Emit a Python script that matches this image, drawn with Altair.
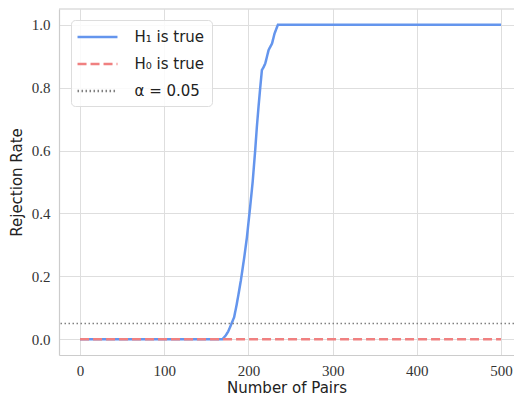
import altair as alt
import pandas as pd

# H1 rejection rate curve
h1_n = [0, 50, 100, 150, 169, 173, 176, 179, 183, 186, 188, 191, 195, 198, 200, 202,
        205, 208, 210, 212, 214, 216, 218, 220, 224, 228, 231, 235, 300, 400, 500]
h1_r = [0.0, 0.0, 0.0, 0.0, 0.0, 0.012, 0.025, 0.044, 0.07, 0.11, 0.14, 0.187, 0.26,
        0.32, 0.37, 0.42, 0.50, 0.60, 0.675, 0.74, 0.80, 0.856, 0.865, 0.877, 0.92,
        0.94, 0.972, 1.0, 1.0, 1.0, 1.0]
# H0 rejection rate (flat at zero)
h0_n = [0, 100, 200, 300, 400, 500]
h0_r = [0.0, 0.0, 0.0, 0.0, 0.0, 0.0]
alpha_level = [0.05]

series = ["H\u2081 is true", "H\u2080 is true", "\u03b1 = 0.05"]
colors = ["#6495ED", "#F08080", "#808080"]
dashes = [[1, 0], [9, 4], [1.5, 2.5]]

df_lines = pd.concat([
    pd.DataFrame({"n": h1_n, "r": h1_r, "series": series[0], "order": 0}),
    pd.DataFrame({"n": h0_n, "r": h0_r, "series": series[1], "order": 1}),
])
df_alpha = pd.DataFrame({"r": alpha_level, "series": series[2]})

xscale = alt.Scale(domain=[-25, 515.4], nice=False, zero=False)
yscale = alt.Scale(domain=[-0.05, 1.05], nice=False, zero=False)
leg = alt.Legend(title=None, orient="none", legendX=12, legendY=11)
color = alt.Color("series:N", scale=alt.Scale(domain=series, range=colors), legend=leg)
dash = alt.StrokeDash("series:N", scale=alt.Scale(domain=series, range=dashes), legend=leg)

lines = alt.Chart(df_lines).mark_line(strokeWidth=2.5, clip=True).encode(
    x=alt.X("n:Q", scale=xscale, title="Number of Pairs",
            axis=alt.Axis(values=[0, 100, 200, 300, 400, 500], format="d")),
    y=alt.Y("r:Q", scale=yscale, title="Rejection Rate",
            axis=alt.Axis(values=[0, 0.2, 0.4, 0.6, 0.8, 1.0], format=".1f")),
    color=color,
    strokeDash=dash,
    detail="series:N",
    order="order:Q",
)

alpha_rule = alt.Chart(df_alpha).mark_rule(strokeWidth=1.5).encode(
    y=alt.Y("r:Q", scale=yscale),
    color=color,
    strokeDash=dash,
)

# top frame line of the plot area
top_frame = alt.Chart(df_alpha).mark_rule(color="#cccccc", strokeWidth=1.2).encode(
    y=alt.value(0)
)

chart = alt.layer(lines, alpha_rule, top_frame).properties(
    width=455, height=346,
    autosize=alt.AutoSizeParams(type="none"),
    padding={"left": 51, "top": 1, "right": 0, "bottom": 41},
    background="white",
).configure_view(
    strokeWidth=0
).configure_axis(
    grid=True, gridColor="#dedede", gridWidth=1,
    domain=True, domainColor="#cccccc", domainWidth=1.2,
    ticks=False, tickSize=0,
    labelFont="Liberation Serif", labelFontSize=15, labelColor="#333333",
    titleFont="DejaVu Sans", titleFontSize=15, titleFontWeight="normal", titleColor="#222222",
).configure_axisX(
    labelPadding=8, titlePadding=2,
).configure_axisY(
    labelPadding=9, titlePadding=7,
).configure_legend(
    symbolType="M-2.35,0H2.35", symbolSize=289, symbolStrokeWidth=2.5,
    symbolOffset=9.5,
    labelFont="DejaVu Sans", labelFontSize=15, labelColor="#222222", labelOffset=27,
    fillColor="rgba(255,255,255,0.85)", strokeColor="#dddddd", cornerRadius=4,
    padding=7, rowPadding=9,
)

chart.save("out.html", embed_options={"renderer": "svg", "actions": False})
